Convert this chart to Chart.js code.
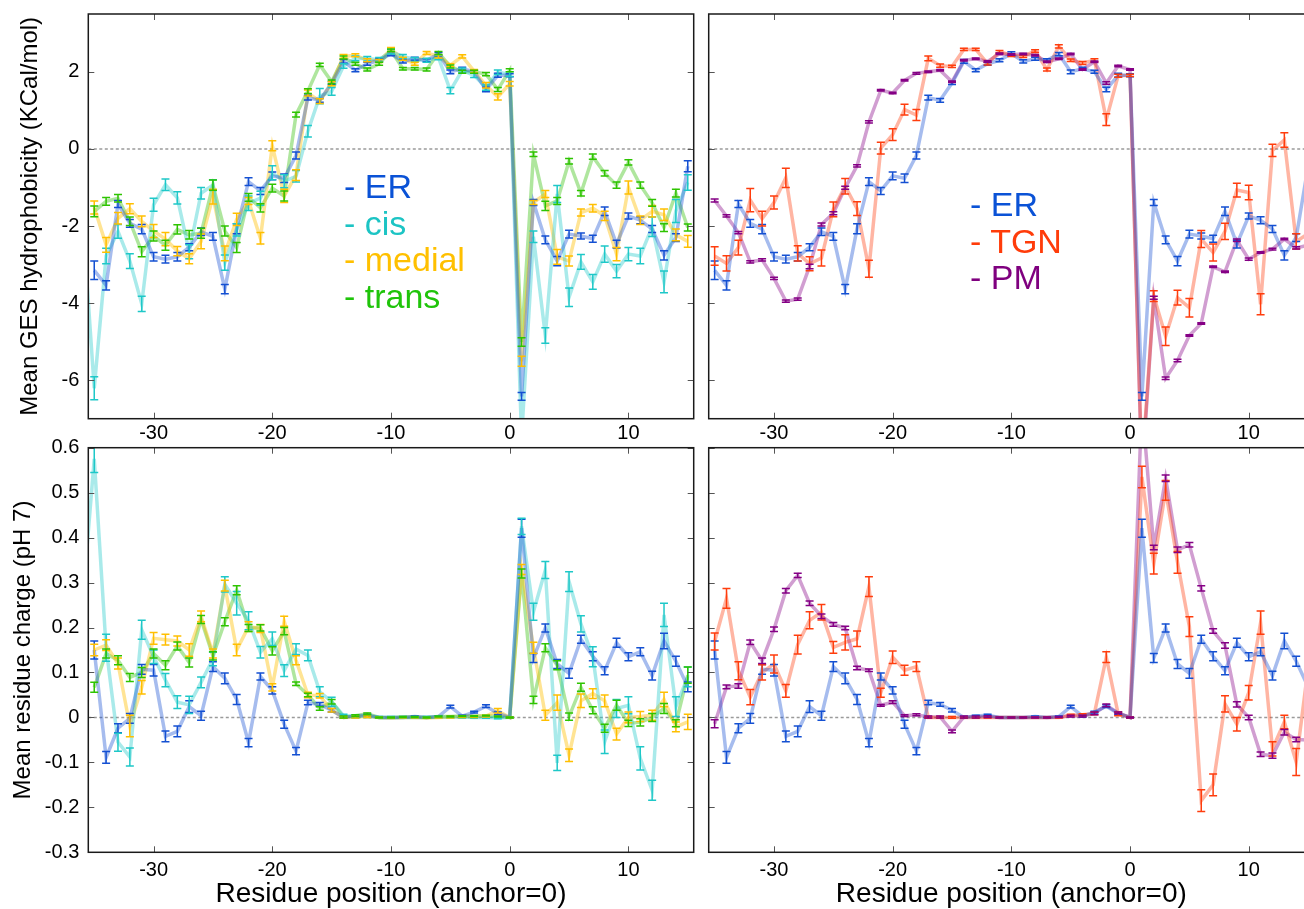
<!DOCTYPE html>
<html><head><meta charset="utf-8">
<script src="https://cdn.jsdelivr.net/npm/chart.js@4.4.1/dist/chart.umd.min.js"></script>
<style>
html,body{margin:0;padding:0;background:#fff;overflow:hidden;width:1304px;height:909px;position:relative;}
canvas{position:absolute;}
.leg{position:absolute;font-family:'Liberation Sans',Arial,sans-serif;font-size:34px;line-height:36.5px;white-space:pre;}
</style></head><body>
<canvas id="c1" width="700" height="460" style="left:0;top:-10px"></canvas>
<canvas id="c2" width="620" height="460" style="left:700px;top:-10px"></canvas>
<canvas id="c3" width="700" height="491" style="left:0;top:420px"></canvas>
<canvas id="c4" width="620" height="491" style="left:700px;top:420px"></canvas>
<div class="leg" style="left:344px;top:168px"><span style="color:#0a52d6">- ER</span>
<span style="color:#1cc4c4">- cis</span>
<span style="color:#ffc000">- medial</span>
<span style="color:#1fc40a">- trans</span></div>
<div class="leg" style="left:970px;top:186px"><span style="color:#0a52d6">- ER</span>
<span style="color:#ff3c0a">- TGN</span>
<span style="color:#7f007f">- PM</span></div>
<script>
// ---------- DATA ----------
const positions = [-36,-35,-34,-33,-32,-31,-30,-29,-28,-27,-26,-25,-24,-23,-22,-21,-20,-19,-18,-17,-16,-15,-14,-13,-12,-11,-10,-9,-8,-7,-6,-5,-4,-3,-2,-1,0,1,2,3,4,5,6,7,8,9,10,11,12,13,14,15];
const xTicks = [-30,-20,-10,0,10];
const hydroTicks = [-6,-4,-2,0,2];
const chargeTicks = [-0.3,-0.2,-0.1,0,0.1,0.2,0.3,0.4,0.5,0.6];

// Mean GES hydrophobicity
const hydroER = [null,-3.15,-3.54,-1.43,-1.93,-2.08,-2.80,-2.86,-2.80,-2.55,-2.15,-2.27,-3.64,-2.07,-0.85,-1.09,-0.70,-0.76,-0.17,1.33,1.26,1.71,2.27,2.04,2.21,2.30,2.47,2.27,2.34,2.30,2.46,2.00,2.08,2.00,1.54,1.91,1.91,-6.42,-1.39,-2.36,-2.91,-2.21,-2.26,-2.33,-1.62,-2.47,-1.74,-1.85,-2.08,-2.76,-2.30,-0.45];
const hydroCis = [-1.7,-6.21,-2.78,-2.14,-2.91,-4.02,-1.45,-0.93,-1.27,-2.67,-1.15,-0.94,-2.95,-2.10,-1.41,-1.28,-0.62,-0.84,-0.71,0.46,1.37,1.49,2.15,2.35,2.34,2.32,2.52,2.40,2.32,2.30,2.37,1.51,2.04,1.91,1.59,1.99,1.94,-7.5,-2.28,-4.84,-1.17,-3.85,-2.93,-3.45,-2.73,-3.17,-2.73,-2.78,-2.02,-3.45,-1.61,-0.87];
const hydroMedial = [null,-1.52,-2.49,-1.80,-1.55,-1.88,-2.13,-2.34,-2.65,-2.85,-2.40,-1.24,-2.71,-1.83,-1.35,-2.32,0.08,-1.22,-0.68,1.45,1.24,1.69,2.40,2.43,2.30,2.28,2.58,2.34,2.21,2.49,2.40,2.17,2.40,2.02,1.65,1.35,1.69,-5.51,-1.39,-1.17,-2.80,-2.91,-1.65,-1.54,-1.74,-2.73,-1.00,-1.85,-1.62,-1.71,-2.23,-2.40];
const hydroTrans = [null,-1.62,-1.36,-1.28,-1.88,-2.67,-2.26,-2.50,-2.09,-2.23,-2.19,-0.94,-2.13,-2.56,-1.26,-1.53,-1.02,-1.22,0.89,1.50,2.18,1.74,2.37,2.21,2.06,2.21,2.56,2.08,2.08,2.06,2.49,2.14,2.00,2.00,1.94,1.54,2.04,-5.01,-0.14,-1.48,-1.35,-0.32,-1.15,-0.20,-0.63,-0.94,-0.35,-0.94,-1.40,-2.04,-1.15,-2.04];
const hydroTGN = [null,-2.78,-2.97,-2.56,-1.33,-1.81,-1.39,-0.75,-2.71,-2.98,-2.83,-1.57,-0.97,-1.55,-3.11,0.02,0.37,1.02,0.88,2.35,2.16,2.14,2.58,2.58,2.21,2.52,2.43,2.40,2.54,2.06,2.66,2.30,2.23,2.30,0.76,1.90,1.91,-8.3,-3.82,-4.86,-3.86,-4.12,-2.34,-2.69,-2.14,-1.07,-1.13,-4.03,-0.04,0.23,-2.40,-2.2];
const hydroPM = [null,-1.34,-1.74,-2.17,-2.93,-2.88,-3.36,-3.95,-3.90,-3.05,-1.96,-1.67,-1.01,-0.44,0.70,1.52,1.45,1.78,1.96,2.00,2.04,1.74,2.30,2.34,2.27,2.47,2.45,2.46,2.43,2.26,2.34,2.46,2.06,2.26,1.71,2.15,2.06,-8.5,-3.86,-5.95,-5.49,-4.84,-4.53,-3.06,-3.19,-2.37,-2.86,-2.69,-2.60,-2.34,-2.57,-2.5];

const hydroErrER = [null,0.24,0.12,0.09,0.10,0.12,0.11,0.10,0.11,0.09,0.10,0.10,0.12,0.13,0.10,0.09,0.10,0.11,0.09,0.06,0.05,0.04,0.05,0.04,0.04,0.04,0.05,0.04,0.04,0.04,0.04,0.05,0.04,0.04,0.06,0.05,0.04,0.10,0.08,0.10,0.12,0.10,0.08,0.09,0.11,0.10,0.08,0.09,0.09,0.12,0.10,0.14];
const hydroErrCis = [null,0.30,0.20,0.18,0.19,0.20,0.17,0.15,0.16,0.18,0.15,0.14,0.20,0.16,0.19,0.18,0.18,0.17,0.15,0.15,0.20,0.10,0.06,0.06,0.06,0.05,0.06,0.05,0.05,0.05,0.06,0.08,0.06,0.06,0.07,0.06,0.06,0.20,0.15,0.20,0.22,0.24,0.19,0.19,0.21,0.17,0.17,0.20,0.25,0.28,0.30,0.20];
const hydroErrMedial = [null,0.17,0.19,0.15,0.13,0.14,0.17,0.17,0.12,0.13,0.19,0.19,0.19,0.16,0.09,0.15,0.13,0.17,0.14,0.08,0.06,0.05,0.05,0.04,0.04,0.04,0.05,0.04,0.04,0.04,0.04,0.04,0.04,0.04,0.07,0.08,0.06,0.13,0.05,0.09,0.19,0.13,0.09,0.10,0.12,0.17,0.17,0.11,0.15,0.15,0.15,0.15];
const hydroErrTrans = [null,0.14,0.10,0.10,0.11,0.13,0.13,0.13,0.12,0.11,0.13,0.13,0.13,0.13,0.10,0.11,0.10,0.13,0.06,0.06,0.04,0.05,0.04,0.04,0.04,0.04,0.03,0.03,0.03,0.04,0.04,0.04,0.04,0.04,0.04,0.05,0.04,0.11,0.06,0.12,0.09,0.07,0.07,0.07,0.07,0.08,0.07,0.08,0.09,0.10,0.10,0.09];
const hydroErrTGN = [null,0.24,0.20,0.19,0.30,0.19,0.17,0.25,0.20,0.18,0.21,0.19,0.20,0.18,0.22,0.15,0.15,0.14,0.14,0.06,0.04,0.03,0.03,0.03,0.03,0.03,0.03,0.03,0.03,0.04,0.04,0.03,0.04,0.04,0.15,0.04,0.03,0.20,0.14,0.24,0.19,0.24,0.22,0.22,0.21,0.18,0.19,0.27,0.16,0.19,0.20,0.20];
const hydroErrPM = [null,0.04,0.03,0.03,0.03,0.03,0.03,0.03,0.03,0.06,0.04,0.04,0.04,0.03,0.03,0.02,0.02,0.02,0.02,0.02,0.02,0.02,0.02,0.02,0.02,0.02,0.02,0.02,0.02,0.02,0.02,0.02,0.02,0.02,0.03,0.02,0.02,0.05,0.04,0.03,0.03,0.02,0.02,0.02,0.02,0.03,0.03,0.02,0.02,0.02,0.03,0.03];

// Mean residue charge (pH 7)
const chargeER = [null,0.150,-0.089,-0.024,-0.002,0.107,0.105,-0.042,-0.031,0.024,0.004,0.113,0.087,0.040,-0.056,0.091,0.060,-0.015,-0.075,0.033,0.029,0.016,0.000,0.003,0.005,0.000,0.000,0.000,0.002,0.000,0.002,0.024,0.003,0.012,0.025,0.009,0.000,0.421,0.132,0.199,0.119,0.098,0.174,0.136,0.104,0.166,0.135,0.146,0.093,0.170,0.125,0.068];
const chargeCis = [0.25,0.575,0.155,-0.055,-0.088,0.195,0.135,0.083,0.034,0.028,0.078,0.13,0.296,0.254,0.215,0.145,0.175,0.104,0.152,0.138,0.057,0.035,0.004,0.002,0.003,0.000,0.000,0.000,0.000,0.000,0.001,0.001,0.001,0.000,0.000,-0.001,0.000,0.425,0.235,0.328,-0.101,0.302,0.208,0.135,-0.054,0.020,0.027,-0.091,-0.162,0.228,0.024,0.090];
const chargeMedial = [null,0.150,0.161,0.120,-0.019,0.067,0.176,0.173,0.170,0.150,0.225,0.142,0.293,0.150,0.202,0.198,0.067,0.214,0.127,0.050,0.048,0.016,0.000,0.001,0.002,0.000,-0.001,0.000,0.000,-0.001,0.000,0.001,0.002,0.002,0.003,0.015,0.000,0.329,0.155,0.005,0.033,-0.084,0.037,0.053,0.037,-0.037,0.000,0.002,0.005,0.040,-0.021,-0.010];
const chargeTrans = [null,0.067,0.142,0.127,0.089,0.100,0.142,0.116,0.159,0.122,0.218,0.137,0.213,0.283,0.199,0.199,0.148,0.192,0.075,0.050,0.020,0.035,0.001,0.004,0.008,0.000,0.000,0.001,0.001,0.000,0.002,0.002,0.003,0.003,0.004,0.002,0.000,0.320,0.039,0.155,0.116,0.002,0.067,0.016,-0.024,0.027,-0.013,-0.011,0.000,0.020,-0.013,0.094];
const chargeTGN = [null,0.169,0.265,0.104,0.045,0.100,0.119,0.059,0.162,0.216,0.234,0.156,0.167,0.175,0.291,0.055,0.134,0.105,0.113,0.000,0.000,0.000,0.000,0.000,0.000,0.000,0.000,0.000,0.000,0.000,0.000,0.005,0.006,0.009,0.134,0.008,0.000,0.535,0.342,0.505,0.345,0.202,-0.185,-0.150,0.030,-0.015,0.055,0.211,-0.070,-0.010,-0.099,0.11];
const chargePM = [null,-0.014,0.068,0.070,0.167,0.126,0.196,0.282,0.316,0.254,0.225,0.207,0.199,0.110,0.105,0.027,0.034,0.004,0.006,0.001,0.001,-0.031,0.001,0.001,0.002,0.000,0.000,0.000,0.000,0.000,0.001,0.003,0.003,0.009,0.027,0.010,0.000,0.70,0.378,0.532,0.373,0.384,0.287,0.192,0.160,0.029,0.000,-0.082,-0.085,-0.033,-0.049,-0.05];

const chargeErrER = [null,0.020,0.013,0.010,0.011,0.011,0.013,0.012,0.012,0.013,0.010,0.011,0.012,0.011,0.009,0.008,0.008,0.009,0.008,0.005,0.004,0.004,0.002,0.002,0.002,0.001,0.001,0.001,0.001,0.001,0.001,0.003,0.002,0.002,0.003,0.003,0.001,0.020,0.010,0.009,0.010,0.011,0.009,0.010,0.009,0.010,0.009,0.009,0.010,0.017,0.011,0.011];
const chargeErrCis = [null,0.03,0.03,0.02,0.02,0.021,0.015,0.015,0.014,0.019,0.012,0.015,0.017,0.026,0.020,0.013,0.015,0.013,0.012,0.012,0.011,0.010,0.003,0.003,0.003,0.002,0.002,0.002,0.002,0.002,0.002,0.002,0.002,0.002,0.002,0.002,0.001,0.018,0.019,0.019,0.017,0.022,0.018,0.022,0.026,0.02,0.019,0.026,0.022,0.026,0.022,0.022];
const chargeErrMedial = [null,0.013,0.012,0.012,0.024,0.015,0.013,0.012,0.011,0.014,0.012,0.010,0.012,0.013,0.011,0.009,0.008,0.011,0.010,0.006,0.005,0.004,0.002,0.002,0.002,0.001,0.001,0.001,0.001,0.001,0.001,0.002,0.002,0.002,0.002,0.005,0.001,0.011,0.012,0.011,0.017,0.014,0.015,0.011,0.013,0.013,0.012,0.011,0.011,0.016,0.011,0.017];
const chargeErrTrans = [null,0.011,0.010,0.010,0.009,0.011,0.010,0.010,0.009,0.010,0.009,0.009,0.009,0.010,0.008,0.007,0.009,0.008,0.004,0.004,0.004,0.005,0.002,0.002,0.002,0.001,0.001,0.001,0.001,0.001,0.001,0.001,0.001,0.001,0.001,0.001,0.001,0.010,0.008,0.009,0.010,0.008,0.009,0.008,0.009,0.011,0.007,0.008,0.009,0.011,0.008,0.018];
const chargeErrTGN = [null,0.019,0.022,0.020,0.017,0.017,0.020,0.014,0.021,0.019,0.017,0.013,0.017,0.017,0.022,0.010,0.014,0.011,0.011,0.002,0.002,0.002,0.001,0.001,0.001,0.001,0.001,0.001,0.001,0.001,0.001,0.002,0.002,0.003,0.012,0.004,0.001,0.024,0.023,0.022,0.024,0.022,0.024,0.024,0.018,0.015,0.016,0.026,0.016,0.015,0.030,0.02];
const chargeErrPM = [null,0.009,0.004,0.005,0.005,0.006,0.005,0.005,0.005,0.005,0.005,0.004,0.004,0.004,0.003,0.002,0.003,0.002,0.002,0.002,0.002,0.003,0.002,0.002,0.002,0.001,0.001,0.001,0.001,0.001,0.001,0.002,0.002,0.003,0.003,0.002,0.001,0.010,0.005,0.007,0.006,0.005,0.006,0.005,0.006,0.006,0.005,0.005,0.006,0.006,0.005,0.005];

// ---------- STYLE ----------
const FONT = "'Liberation Sans', Arial, Helvetica, sans-serif";
const COL = {
  ER:     {bar:'#1450d2', line:'rgba(20,80,210,0.38)'},
  cis:    {bar:'#1ec8c8', line:'rgba(30,200,200,0.38)'},
  medial: {bar:'#ffbf00', line:'rgba(255,191,0,0.42)'},
  trans:  {bar:'#2ec400', line:'rgba(46,190,0,0.38)'},
  TGN:    {bar:'#ff3d0d', line:'rgba(255,61,13,0.38)'},
  PM:     {bar:'#850085', line:'rgba(133,0,133,0.38)'}
};

function series(name, vals, errs) {
  const data = [];
  positions.forEach((p, i) => {
    if (vals[i] !== null) data.push({x: p, y: vals[i], e: errs[i]});
  });
  return {label: name, data, borderColor: COL[name].line, barColor: COL[name].bar,
          borderWidth: 3.5, pointRadius: 0, tension: 0, fill: false};
}

const decor = {
  id: 'decor',
  beforeDatasetsDraw(chart) {
    const {ctx, chartArea: a, scales: {y}} = chart;
    const y0 = y.getPixelForValue(0);
    ctx.save();
    ctx.strokeStyle = '#9a9a9a'; ctx.lineWidth = 1.5; ctx.setLineDash([3, 2.5]);
    ctx.beginPath(); ctx.moveTo(a.left, y0); ctx.lineTo(a.right, y0); ctx.stroke();
    ctx.restore();
  },
  afterDatasetsDraw(chart) {
    const {ctx, chartArea: a, scales: {x, y}} = chart;
    ctx.save();
    ctx.beginPath(); ctx.rect(a.left, a.top, a.right - a.left, a.bottom - a.top); ctx.clip();
    ctx.lineWidth = 1.5;
    chart.data.datasets.forEach(ds => {
      ctx.strokeStyle = ds.barColor;
      ds.data.forEach(p => {
        if (p.e === null || p.e === undefined) return;
        const px = x.getPixelForValue(p.x);
        const y1 = y.getPixelForValue(p.y - p.e), y2 = y.getPixelForValue(p.y + p.e);
        ctx.beginPath();
        ctx.moveTo(px, y1); ctx.lineTo(px, y2);
        ctx.moveTo(px - 4, y1); ctx.lineTo(px + 4, y1);
        ctx.moveTo(px - 4, y2); ctx.lineTo(px + 4, y2);
        ctx.stroke();
      });
    });
    ctx.restore();
    // inward ticks and frame
    ctx.save();
    ctx.strokeStyle = '#555'; ctx.lineWidth = 1;
    const yt = chart.options.plugins.decor.yTicks;
    ctx.beginPath();
    xTicks.forEach(v => {
      const px = Math.round(x.getPixelForValue(v)) + 0.5;
      ctx.moveTo(px, a.top); ctx.lineTo(px, a.top + 6);
      ctx.moveTo(px, a.bottom); ctx.lineTo(px, a.bottom - 6);
    });
    yt.forEach(v => {
      const py = Math.round(y.getPixelForValue(v)) + 0.5;
      ctx.moveTo(a.left, py); ctx.lineTo(a.left + 6, py);
      ctx.moveTo(a.right, py); ctx.lineTo(a.right - 6, py);
    });
    ctx.stroke();
    ctx.strokeStyle = '#1a1a1a'; ctx.lineWidth = 1.5;
    ctx.strokeRect(a.left, a.top, a.right - a.left, a.bottom - a.top);
    ctx.restore();
  }
};

function makePanel(id, o) {
  const yFmt = o.charge ? (v => v === 0 ? '0' : v.toFixed(1)) : (v => String(v));
  new Chart(document.getElementById(id), {
    type: 'line',
    data: {datasets: o.datasets},
    options: {
      responsive: false, animation: false, devicePixelRatio: 1,
      layout: {padding: o.pad},
      plugins: {legend: {display: false}, tooltip: {enabled: false}, decor: {yTicks: o.yTicks}},
      scales: {
        x: {
          type: 'linear', min: -35.5, max: 15.5, display: true,
          afterBuildTicks: s => { s.ticks = xTicks.map(v => ({value: v})); },
          afterFit: s => { s.height = o.xH; },
          grid: {display: false, drawTicks: false}, border: {display: false},
          ticks: {font: {family: FONT, size: 20}, color: '#000', padding: o.xPad, maxRotation: 0, autoSkip: false},
          title: {display: !!o.xTitle, text: o.xTitle || '', color: '#000', font: {family: FONT, size: 28}, padding: {top: 0, bottom: 0}}
        },
        y: {
          type: 'linear', min: o.yMin, max: o.yMax, display: o.yShow,
          afterBuildTicks: s => { s.ticks = o.yTicks.map(v => ({value: v})); },
          afterFit: s => { s.width = o.yShow ? 88.3 : 0; },
          grid: {display: false, drawTicks: false}, border: {display: false},
          ticks: {font: {family: FONT, size: 20}, color: '#000', padding: 9, callback: yFmt, autoSkip: false},
          title: {display: !!o.yTitle, text: o.yTitle || '', color: '#000', font: {family: FONT, size: 24}, padding: {top: o.yTitlePad || 0, bottom: 0}}
        }
      }
    },
    plugins: [decor]
  });
}

const hydroTop = [
  series('ER', hydroER, hydroErrER), series('cis', hydroCis, hydroErrCis),
  series('medial', hydroMedial, hydroErrMedial), series('trans', hydroTrans, hydroErrTrans)];
const hydroRight = [
  series('ER', hydroER, hydroErrER), series('TGN', hydroTGN, hydroErrTGN), series('PM', hydroPM, hydroErrPM)];
const chargeLeft = [
  series('ER', chargeER, chargeErrER), series('cis', chargeCis, chargeErrCis),
  series('medial', chargeMedial, chargeErrMedial), series('trans', chargeTrans, chargeErrTrans)];
const chargeRight = [
  series('ER', chargeER, chargeErrER), series('TGN', chargeTGN, chargeErrTGN), series('PM', chargePM, chargeErrPM)];

// canvas c1/c2 start at y=-10 (plot top 14, bottom 418.7); c3/c4 start at y=420 (plot top 447.7, bottom 852.3)
makePanel('c1', {datasets: hydroTop, pad: {left: 0, top: 24, right: 6.3, bottom: 0}, xH: 31.3, xPad: 3,
  yShow: true, yMin: -7, yMax: 3.5, yTicks: hydroTicks, yTitle: 'Mean GES hydrophobicity (KCal/mol)', yTitlePad: 16});
makePanel('c2', {datasets: hydroRight, pad: {left: 8.7, top: 24, right: 6, bottom: 0}, xH: 31.3, xPad: 3,
  yShow: false, yMin: -7, yMax: 3.5, yTicks: hydroTicks});
makePanel('c3', {datasets: chargeLeft, pad: {left: 0, top: 27.7, right: 6.3, bottom: 0}, xH: 58.7, xPad: 6,
  xTitle: 'Residue position (anchor=0)', charge: true,
  yShow: true, yMin: -0.3, yMax: 0.6, yTicks: chargeTicks, yTitle: 'Mean residue charge (pH 7)', yTitlePad: 9});
makePanel('c4', {datasets: chargeRight, pad: {left: 8.7, top: 27.7, right: 6, bottom: 0}, xH: 58.7, xPad: 6,
  xTitle: 'Residue position (anchor=0)', charge: true,
  yShow: false, yMin: -0.3, yMax: 0.6, yTicks: chargeTicks});
</script>
</body></html>
